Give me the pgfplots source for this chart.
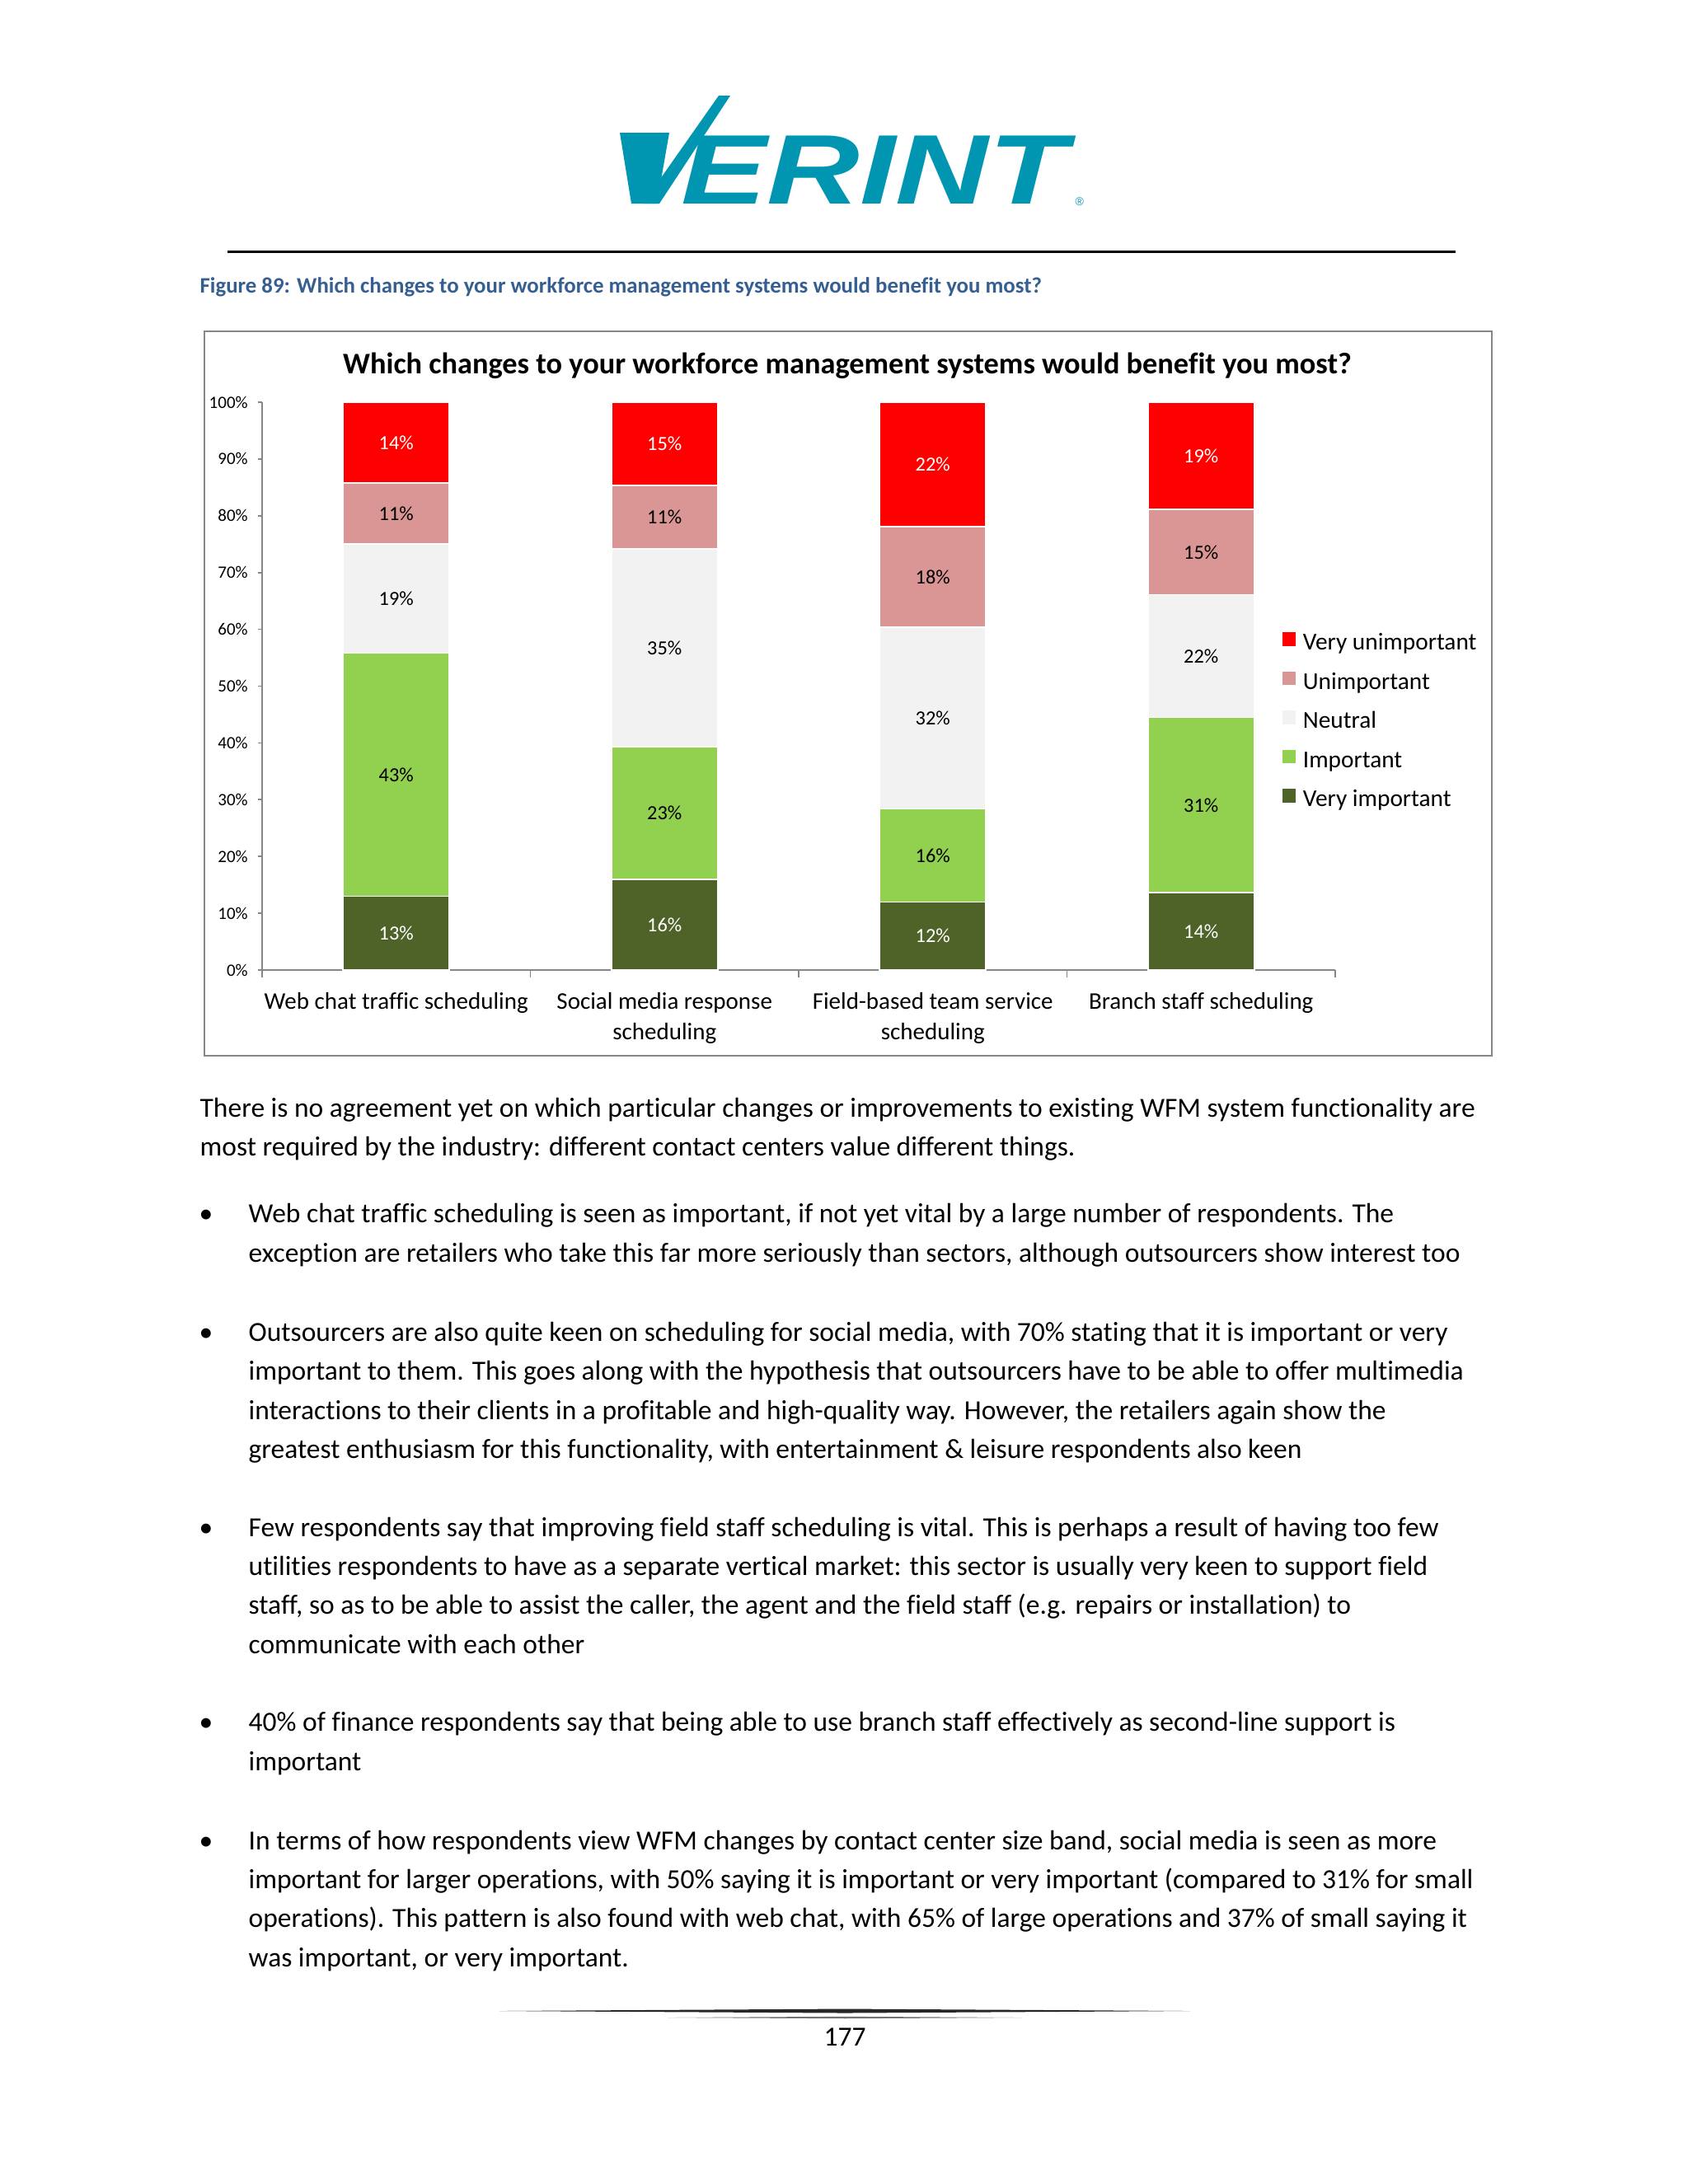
\documentclass[border=0pt]{standalone}
\usepackage{fontspec}
\setmainfont{Carlito}[Ligatures={NoCommon}]
\newfontfamily\logofont{Liberation Sans}
\usepackage{pgfplots}
\pgfplotsset{compat=1.18}
\usepackage{pgfplotstable}

\definecolor{vu}{HTML}{FF0000}
\definecolor{un}{HTML}{D99694}
\definecolor{ne}{HTML}{F2F2F2}
\definecolor{im}{HTML}{92D050}
\definecolor{vi}{HTML}{4F6228}
\definecolor{axgrey}{HTML}{868686}
\definecolor{capblue}{HTML}{365F91}
\definecolor{logoc}{HTML}{0096B2}

\newcommand{\fs}[2]{\fontsize{#1}{#2}\selectfont}

\pgfplotstableread{
x VI IM NE UN VU
0 13.0 42.8 19.2 10.8 14.2
1 16.0 23.3 34.9 11.1 14.7
2 12.0 16.4 32.0 17.7 21.9
3 13.6 30.9 21.6 15.0 18.9
}\wfm

\pgfplotsset{
  seg/.style n args={3}{
    fill=#1, draw=white, line width=0.5pt,
    visualization depends on={\thisrow{#2}\as\rawy},
    nodes near coords={\pgfmathprintnumber[fixed,precision=0]{\rawy}\%},
    every node near coord/.append style={text=#3, anchor=center, inner sep=0pt,
      font=\fs{7.3}{8}},
  },
}

\begin{document}
\begin{tikzpicture}
% page
\path[fill=white] (0pt,0pt) rectangle (614.4pt,-795pt);
\begin{scope}[x=0.3pt,y=-0.3pt]
  % logo
  \fill[logoc] (752,161) -- (812,161) -- (797,247) -- (766,247) -- cycle;
  \fill[logoc] (780,247) -- (800,247) -- (886,116) -- (872,116) -- cycle;
  \node[anchor=base west, inner sep=0pt, text=logoc, font=\logofont\bfseries\itshape\fs{36}{40}, xscale=1.3] at (826,247) {ERINT};
  \node[anchor=base west, inner sep=0pt, text=logoc, font=\logofont\fs{4.2}{5}] at (1304,249) {\textregistered};
  % rule
  \draw[black, line width=0.9pt] (276,305) -- (1766,305);
  % caption
  \node[anchor=base west, inner sep=0pt, text=capblue, font=\bfseries\fs{8.05}{9}] at (242,355) {Figure 89: Which changes to your workforce management systems would benefit you most?};
  % chart box
  \draw[axgrey, line width=0.6pt] (248,402) rectangle (1810,1281);
  \node[anchor=base, inner sep=0pt, font=\bfseries\fs{10.9}{12}] at (1028,453) {Which changes to your workforce management systems would benefit you most?};
  % body text
  \tikzset{bt/.style={anchor=base west, inner sep=0pt, font=\fs{10.05}{11}},
           bu/.style={anchor=base, inner sep=0pt, font=\fs{10.05}{11}}}
  \node[bt] at (242,1355) {There is no agreement yet on which particular changes or improvements to existing WFM system functionality are};
  \node[bt] at (242,1402) {most required by the industry: different contact centers value different things.};
  \node[bu] at (250,1483) {•};
  \node[bt] at (301,1483) {Web chat traffic scheduling is seen as important, if not yet vital by a large number of respondents. The};
  \node[bt] at (301,1531) {exception are retailers who take this far more seriously than sectors, although outsourcers show interest too};
  \node[bu] at (250,1627) {•};
  \node[bt] at (301,1627) {Outsourcers are also quite keen on scheduling for social media, with 70\% stating that it is important or very};
  \node[bt] at (301,1674) {important to them. This goes along with the hypothesis that outsourcers have to be able to offer multimedia};
  \node[bt] at (301,1722) {interactions to their clients in a profitable and high-quality way. However, the retailers again show the};
  \node[bt] at (301,1769) {greatest enthusiasm for this functionality, with entertainment \& leisure respondents also keen};
  \node[bu] at (250,1864) {•};
  \node[bt] at (301,1864) {Few respondents say that improving field staff scheduling is vital. This is perhaps a result of having too few};
  \node[bt] at (301,1911) {utilities respondents to have as a separate vertical market: this sector is usually very keen to support field};
  \node[bt] at (301,1958) {staff, so as to be able to assist the caller, the agent and the field staff (e.g. repairs or installation) to};
  \node[bt] at (301,2006) {communicate with each other};
  \node[bu] at (250,2100) {•};
  \node[bt] at (301,2100) {40\% of finance respondents say that being able to use branch staff effectively as second-line support is};
  \node[bt] at (301,2148) {important};
  \node[bu] at (250,2244) {•};
  \node[bt] at (301,2244) {In terms of how respondents view WFM changes by contact center size band, social media is seen as more};
  \node[bt] at (301,2291) {important for larger operations, with 50\% saying it is important or very important (compared to 31\% for small};
  \node[bt] at (301,2338) {operations). This pattern is also found with web chat, with 65\% of large operations and 37\% of small saying it};
  \node[bt] at (301,2386) {was important, or very important.};
  % footer
  \fill[black!85] (606,2440) -- (1025,2437.5) -- (1444,2440) -- (1025,2442.5) -- cycle;
  \fill[black!55] (810,2448) -- (1025,2446.8) -- (1240,2448) -- (1025,2449.2) -- cycle;
  \node[anchor=base, inner sep=0pt, font=\fs{10.05}{11}] at (1025,2482) {177};
\end{scope}

\begin{axis}[
  at={(95.4pt,-353.1pt)}, anchor=south west,
  scale only axis, width=390.6pt, height=206.7pt,
  ybar stacked, bar width=38.7pt,
  xmin=-0.5, xmax=3.5, ymin=0, ymax=100,
  axis x line*=bottom, axis y line*=left,
  axis line style={draw=axgrey, line width=0.5pt},
  xtick={0,1,2,3},
  xticklabels={Web chat traffic scheduling, {Social media response\\scheduling}, {Field-based team service\\scheduling}, Branch staff scheduling},
  minor xtick={-0.5,0.5,1.5,2.5,3.5},
  tick style={draw=axgrey, line width=0.5pt},
  major x tick style={draw=none},
  tick align=outside,
  major tick length=1.5pt, minor tick length=2.7pt,
  ytick={0,10,...,100},
  yticklabel={\pgfmathprintnumber{\tick}\%},
  /pgf/number format/assume math mode=true,
  yticklabel style={font=\fs{6.3}{7}, inner sep=0pt, anchor=east, xshift=-3.5pt},
  xticklabel style={font=\fs{8.7}{11}, align=center, inner sep=0pt, anchor=north, yshift=-6.5pt},
  legend style={at={(0.950,0.598)}, anchor=north west, draw=none, fill=none, inner sep=0pt,
    font=\fs{8.8}{10}, row sep=5.25pt,
    nodes={inner sep=0pt, text height=7pt, text depth=2pt},
    /tikz/every odd column/.append style={column sep=2.6pt}},
  legend cell align=left,
  reverse legend,
  legend image code/.code={\fill[#1, draw=none] (0pt,-1pt) rectangle (5pt,4pt);},
  clip=false,
]
\addplot[seg={vi}{VI}{white}] table[x=x, y=VI] {\wfm};
\addplot[seg={im}{IM}{black}] table[x=x, y=IM] {\wfm};
\addplot[seg={ne}{NE}{black}] table[x=x, y=NE] {\wfm};
\addplot[seg={un}{UN}{black}] table[x=x, y=UN] {\wfm};
\addplot[seg={vu}{VU}{white}] table[x=x, y=VU] {\wfm};
\legend{Very important, Important, Neutral, Unimportant, Very unimportant}
\end{axis}
\end{tikzpicture}
\end{document}
